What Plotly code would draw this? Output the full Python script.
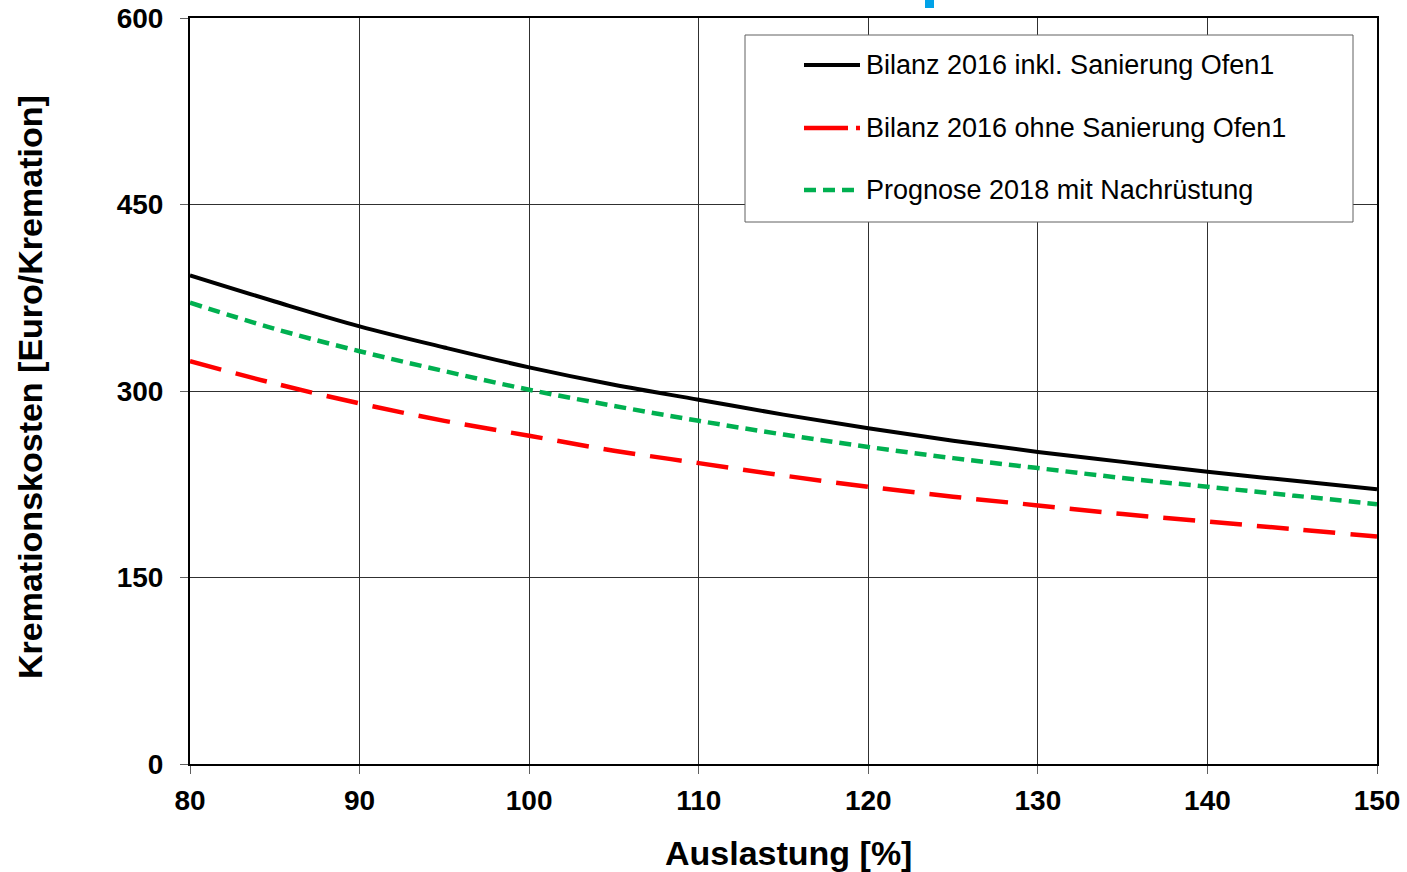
import plotly.graph_objects as go

# Data
auslastung = [80, 85, 90, 95, 100, 105, 110, 115, 120, 125, 130, 135, 140, 145, 150]
bilanz_inkl = [393, 372, 352, 335, 319, 305, 293, 281, 270, 260, 251, 243, 235, 228, 221]
bilanz_ohne = [324, 306, 290, 276, 264, 252, 242, 232, 223, 215, 208, 201, 195, 189, 183]
prognose_2018 = [371, 350, 332, 316, 301, 288, 276, 265, 255, 246, 238, 230, 223, 216, 209]

names = ["Bilanz 2016 inkl. Sanierung Ofen1",
         "Bilanz 2016 ohne Sanierung Ofen1",
         "Prognose 2018 mit Nachrüstung"]
x_ticks = [80, 90, 100, 110, 120, 130, 140, 150]
y_ticks = [0, 150, 300, 450, 600]
x_title = "Auslastung [%]"
y_title = "Kremationskosten [Euro/Kremation]"

W, H = 1407, 872
L, R, T, B = 190, 30, 18, 108
PW, PH = W - L - R, H - T - B

def px(x):
    return (x - L) / PW

def py(y):
    return (H - B - y) / PH

FONT = "Liberation Sans, Arial, sans-serif"

fig = go.Figure()
styles = [
    dict(color="black", width=4, dash="solid"),
    dict(color="#FF0000", width=4.5, dash="32px,15px"),
    dict(color="#00B050", width=4.5, dash="12px,7px"),
]
for name, ys, st in zip(names, [bilanz_inkl, bilanz_ohne, prognose_2018], styles):
    fig.add_trace(go.Scatter(x=auslastung, y=ys, mode="lines", name=name,
                             line=dict(shape="spline", **st), showlegend=False))

shapes = []
shapes.append(dict(type="rect", xref="paper", yref="paper",
                   x0=px(745), x1=px(1353), y0=py(222), y1=py(35),
                   line=dict(color="#606060", width=1), fillcolor="white", layer="above"))
annotations = []
legend_y = [65, 128, 190]
legend_dash = ["solid", "44px,8px", "12px,7px"]
for name, st, ly, ld in zip(names, styles, legend_y, legend_dash):
    shapes.append(dict(type="line", xref="paper", yref="paper",
                       x0=px(804), x1=px(860), y0=py(ly), y1=py(ly),
                       line=dict(color=st["color"], width=st["width"], dash=ld), layer="above"))
    annotations.append(dict(text=name, xref="paper", yref="paper", x=px(864), y=py(ly),
                            xanchor="left", yanchor="middle", showarrow=False,
                            font=dict(family=FONT, size=27, color="black")))
# small blue mark at top
shapes.append(dict(type="rect", xref="paper", yref="paper",
                   x0=px(925), x1=px(934), y0=py(8), y1=py(0),
                   line=dict(width=0), fillcolor="#00A2E8", layer="above"))

# axis titles
annotations.append(dict(text="<b>" + x_title + "</b>", xref="paper", yref="paper",
                        x=px(789), y=py(853), xanchor="center", yanchor="middle",
                        showarrow=False, font=dict(family=FONT, size=34, color="black")))
annotations.append(dict(text="<b>" + y_title + "</b>", xref="paper", yref="paper",
                        x=px(30), y=py(387), xanchor="center", yanchor="middle",
                        textangle=-90, showarrow=False,
                        font=dict(family=FONT, size=34, color="black")))

fig.update_layout(
    width=W, height=H,
    margin=dict(l=L, r=R, t=T, b=B, pad=0, autoexpand=False),
    paper_bgcolor="white", plot_bgcolor="white",
    font=dict(family=FONT, color="black"),
    shapes=shapes, annotations=annotations,
    showlegend=False,
)
fig.update_xaxes(range=[80, 150], tickvals=x_ticks, ticktext=[str(v) for v in x_ticks],
                 showgrid=True, gridcolor="#303030", gridwidth=1,
                 showline=True, linecolor="black", linewidth=2, mirror=True,
                 ticks="outside", ticklen=8, tickcolor="#606060", tickwidth=1,
                 ticklabelstandoff=2, ticklabeloverflow="allow",
                 tickfont=dict(family=FONT, size=28, color="black", weight="bold"),
                 automargin=False, zeroline=False)
fig.update_yaxes(range=[0, 600], tickvals=y_ticks, ticktext=[str(v) for v in y_ticks],
                 showgrid=True, gridcolor="#303030", gridwidth=1,
                 showline=True, linecolor="black", linewidth=2, mirror=True,
                 ticks="outside", ticklen=8, tickcolor="#606060", tickwidth=1,
                 ticklabelstandoff=11, ticklabeloverflow="allow",
                 tickfont=dict(family=FONT, size=28, color="black", weight="bold"),
                 automargin=False, zeroline=False)

fig.write_html("out.html",
               config={"displayModeBar": False},
               post_script="document.body.style.margin='0';document.body.style.overflow='hidden';")
